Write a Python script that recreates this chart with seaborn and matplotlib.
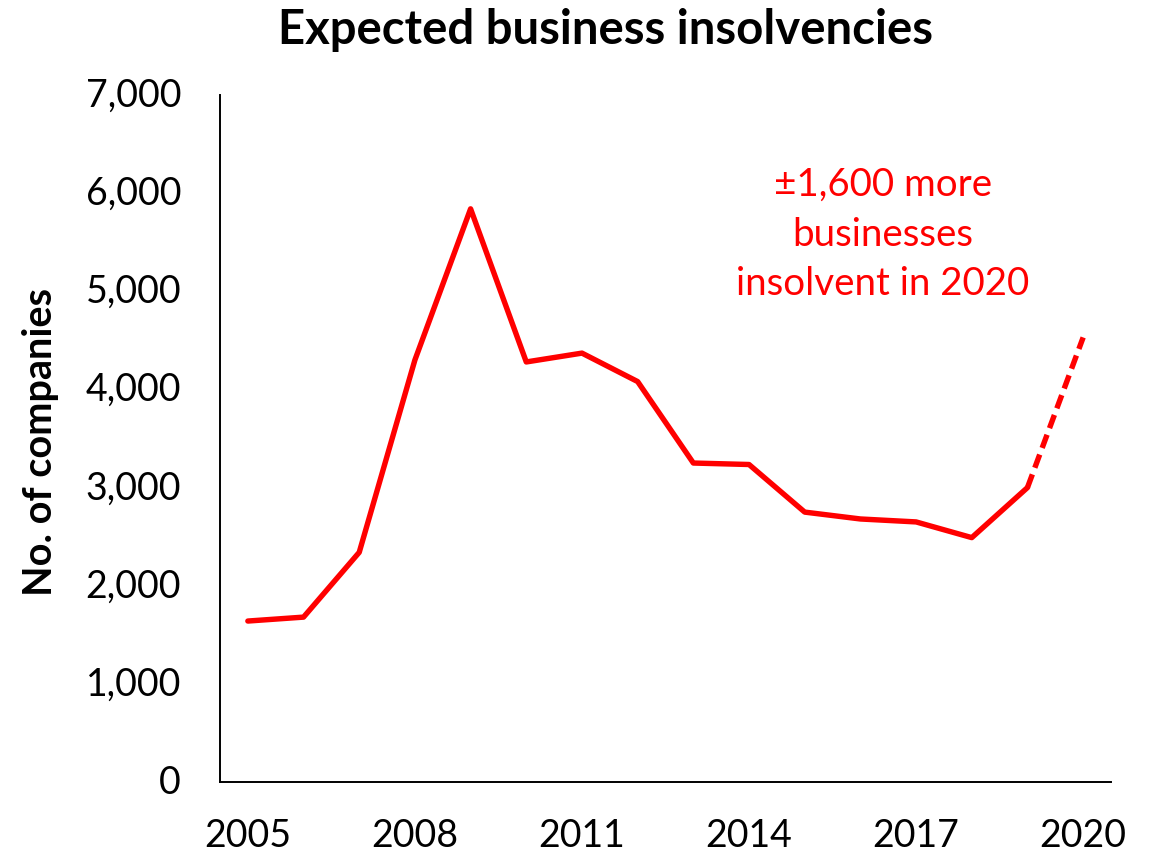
import matplotlib
matplotlib.use("Agg")
import matplotlib.pyplot as plt
from matplotlib.transforms import ScaledTranslation
import seaborn as sns
import pandas as pd

years = [2005, 2006, 2007, 2008, 2009, 2010, 2011, 2012, 2013, 2014, 2015, 2016, 2017, 2018, 2019]
insolvencies = [1640, 1680, 2340, 4300, 5840, 4280, 4370, 4080, 3250, 3235, 2750, 2680, 2650, 2490, 3000]
forecast_years = [2019, 2020]
forecast_values = [3000, 4530]
tick_years = [2005, 2008, 2011, 2014, 2017, 2020]
y_ticks = [0, 1000, 2000, 3000, 4000, 5000, 6000, 7000]

sns.set_theme(style="ticks")
plt.rcParams['font.family'] = ['Lato', 'DejaVu Sans']

df = pd.DataFrame({"year": years, "companies": insolvencies})
df2 = pd.DataFrame({"year": forecast_years, "companies": forecast_values})

fig = plt.figure(figsize=(11.55, 8.56), dpi=100)
ax = fig.add_axes([220 / 1155, 1 - 782 / 856, (1111 - 220) / 1155, (782 - 95) / 856])

sns.lineplot(data=df, x="year", y="companies", color="#ff0000", linewidth=3.9, ax=ax)
sns.lineplot(data=df2, x="year", y="companies", color="#ff0000", linewidth=3.9, linestyle=(0, (2.6, 1.3)), ax=ax)

ax.set_xlim(2004.5, 2020.5)
ax.set_ylim(0, 7000)
ax.set_xticks(tick_years)
ax.set_xticklabels([str(y) for y in tick_years])
ax.set_yticks(y_ticks)
ax.set_yticklabels([f"{v:,}" for v in y_ticks])
ax.tick_params(axis="both", length=0, labelsize=27, labelcolor="black")
ax.tick_params(axis="x", pad=26)
ax.tick_params(axis="y", pad=28)

# y labels sit a touch high otherwise
for label in ax.get_yticklabels():
    label.set_transform(label.get_transform() + ScaledTranslation(0, 2 / 72, fig.dpi_scale_trans))

for side in ["top", "right"]:
    ax.spines[side].set_visible(False)
for side in ["left", "bottom"]:
    ax.spines[side].set_linewidth(1.4)
    ax.spines[side].set_color("black")

ax.set_xlabel("")
ax.set_ylabel("")
fig.text(41 / 1155, 1 - 442 / 856, "No. of companies", fontsize=28.5, fontweight="bold", color="black",
         rotation=90, ha="center", va="center")
fig.text(605 / 1155, 1 - 30 / 856, "Expected business insolvencies", fontsize=34, fontweight="bold",
         color="black", ha="center", va="center")

ax.text(2016.4, 5575, "±1,600 more\nbusinesses\ninsolvent in 2020", color="#ff0000", fontsize=27.7,
        ha="center", va="center", linespacing=1.47)

fig.savefig("out.png", dpi=100)
